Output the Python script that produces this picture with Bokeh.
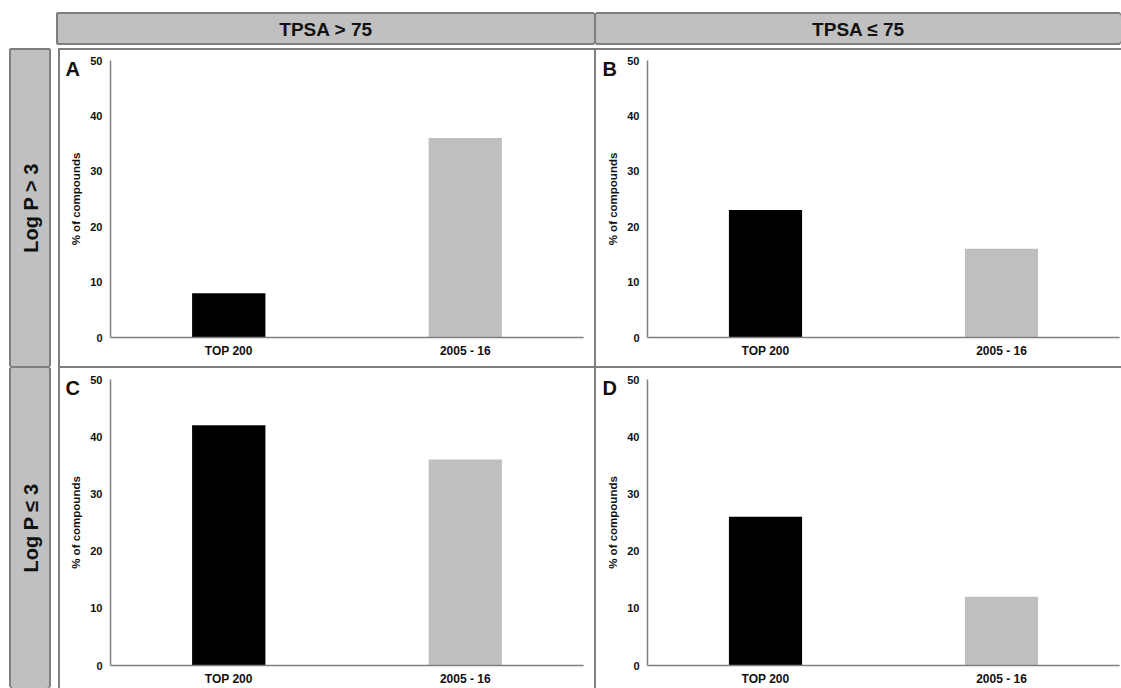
import math
from bokeh.plotting import figure
from bokeh.layouts import row, column
from bokeh.models import Range1d, FactorRange, FixedTicker, Label, Spacer, ColumnDataSource, Title
from bokeh.embed import file_html
from bokeh.resources import INLINE
from bokeh.core.validation import silence
from bokeh.core.validation.warnings import MISSING_RENDERERS

silence(MISSING_RENDERERS, True)

# ---------------- data ----------------
categories = ["TOP 200", "2005 - 16"]
values_A = [8, 36]    # TPSA > 75, Log P > 3
values_B = [23, 16]   # TPSA <= 75, Log P > 3
values_C = [42, 36]   # TPSA > 75, Log P <= 3
values_D = [26, 12]   # TPSA <= 75, Log P <= 3
bar_colors = ["#000000", "#bfbfbf"]
col_headers = ["TPSA > 75", "TPSA ≤ 75"]
row_headers = ["Log P > 3", "Log P ≤ 3"]
panel_letters = ["A", "B", "C", "D"]
y_ticks = [0, 10, 20, 30, 40, 50]
y_axis_title = "% of compounds"

# ---------------- style ----------------
EDGE = "#7f7f7f"
BOX_BG = "#c0c0c0"
FONT = "Liberation Sans"


def box_styles(l, t, r, b, bg=None, radius=None):
    sh = []
    if l:
        sh.append(f"inset {l}px 0 0 0 {EDGE}")
    if r:
        sh.append(f"inset -{r}px 0 0 0 {EDGE}")
    if t:
        sh.append(f"inset 0 {t}px 0 0 {EDGE}")
    if b:
        sh.append(f"inset 0 -{b}px 0 0 {EDGE}")
    st = {"box-shadow": ", ".join(sh)}
    if bg:
        st["background-color"] = bg
    if radius:
        st["border-radius"] = radius
    return st


def header_box(text, w, h, borders, angle=0.0, size="19px"):
    p = figure(width=w, height=h, x_range=Range1d(0, 1), y_range=Range1d(0, 1),
               output_backend="svg", toolbar_location=None,
               x_axis_location=None, y_axis_location=None, min_border=0)
    p.grid.visible = False
    p.border_fill_color = None
    p.background_fill_color = None
    p.outline_line_color = None
    p.add_layout(Label(x=0.5, y=0.5, text=text, text_align="center", text_baseline="middle",
                       angle=angle, text_font=FONT, text_font_style="bold",
                       text_font_size=size, text_color="#111111"))
    p.styles = box_styles(*borders, bg=BOX_BG, radius="3px")
    return p


def panel(letter, values, w, h, mb, borders, x_standoff):
    src = ColumnDataSource(dict(cat=categories, val=values, color=bar_colors))
    title = Title(text=letter, align="left", offset=-45, standoff=-38,
                  text_font=FONT, text_font_style="bold", text_font_size="20px",
                  text_color="#111111", text_baseline="alphabetic")
    p = figure(width=w, height=h, title=title,
               x_range=FactorRange(factors=categories, range_padding=0),
               y_range=Range1d(0, 50),
               output_backend="svg", toolbar_location=None,
               min_border_left=mb[0], min_border_top=mb[1],
               min_border_right=mb[2], min_border_bottom=mb[3])
    p.vbar(x="cat", top="val", width=0.31, source=src, fill_color="color", line_color=None)
    p.grid.visible = False
    p.border_fill_color = None
    p.background_fill_color = None
    p.outline_line_color = None

    for ax in (p.xaxis[0], p.yaxis[0]):
        ax.axis_line_color = EDGE
        ax.axis_line_width = 1.5
        ax.major_tick_line_color = None
        ax.minor_tick_line_color = None
        ax.major_tick_out = 0
        ax.major_tick_in = 0
        ax.minor_tick_out = 0
        ax.major_label_text_font = FONT
        ax.major_label_text_font_style = "bold"
        ax.major_label_text_color = "#111111"

    p.xaxis.major_label_text_font_size = "12px"
    p.xaxis.major_label_standoff = x_standoff

    p.yaxis.ticker = FixedTicker(ticks=y_ticks)
    p.yaxis.major_label_text_font_size = "11px"
    p.yaxis.major_label_standoff = 8
    p.yaxis.axis_label = y_axis_title
    p.yaxis.axis_label_text_font = FONT
    p.yaxis.axis_label_text_font_style = "bold"
    p.yaxis.axis_label_text_font_size = "11.5px"
    p.yaxis.axis_label_text_color = "#111111"
    p.yaxis.axis_label_standoff = 5

    p.styles = box_styles(*borders)
    return p


# headers (page has no margin: layout spans the full 1121 x 688 window)
h1 = header_box(col_headers[0], 539, 33, (2, 2, 1, 2))
h2 = header_box(col_headers[1], 526, 33, (1, 2, 0, 2))
r1 = header_box(row_headers[0], 42, 319, (2, 2, 2, 1), angle=math.pi / 2, size="20px")
r2 = header_box(row_headers[1], 42, 321, (2, 1, 2, 0), angle=math.pi / 2, size="20px")

pA = panel(panel_letters[0], values_A, 537, 319, (52, 12, 12, 30), (2, 2, 1, 1), 6)
pB = panel(panel_letters[1], values_B, 526, 319, (52, 12, 2, 30), (1, 2, 0, 1), 6)
pC = panel(panel_letters[2], values_C, 537, 321, (52, 12, 12, 23), (2, 1, 1, 0), 6)
pD = panel(panel_letters[3], values_D, 526, 321, (52, 12, 2, 23), (1, 1, 0, 0), 6)

top = row(Spacer(width=56, height=33), h1, h2)
labels_col = column(r1, r2)
grid = column(row(pA, pB), row(pC, pD))
body = row(Spacer(width=9, height=640), labels_col, Spacer(width=7, height=640), grid)
layout = column(Spacer(width=1121, height=12), top, Spacer(width=1121, height=3), body)

open("out.html", "w").write(file_html(layout, INLINE))
